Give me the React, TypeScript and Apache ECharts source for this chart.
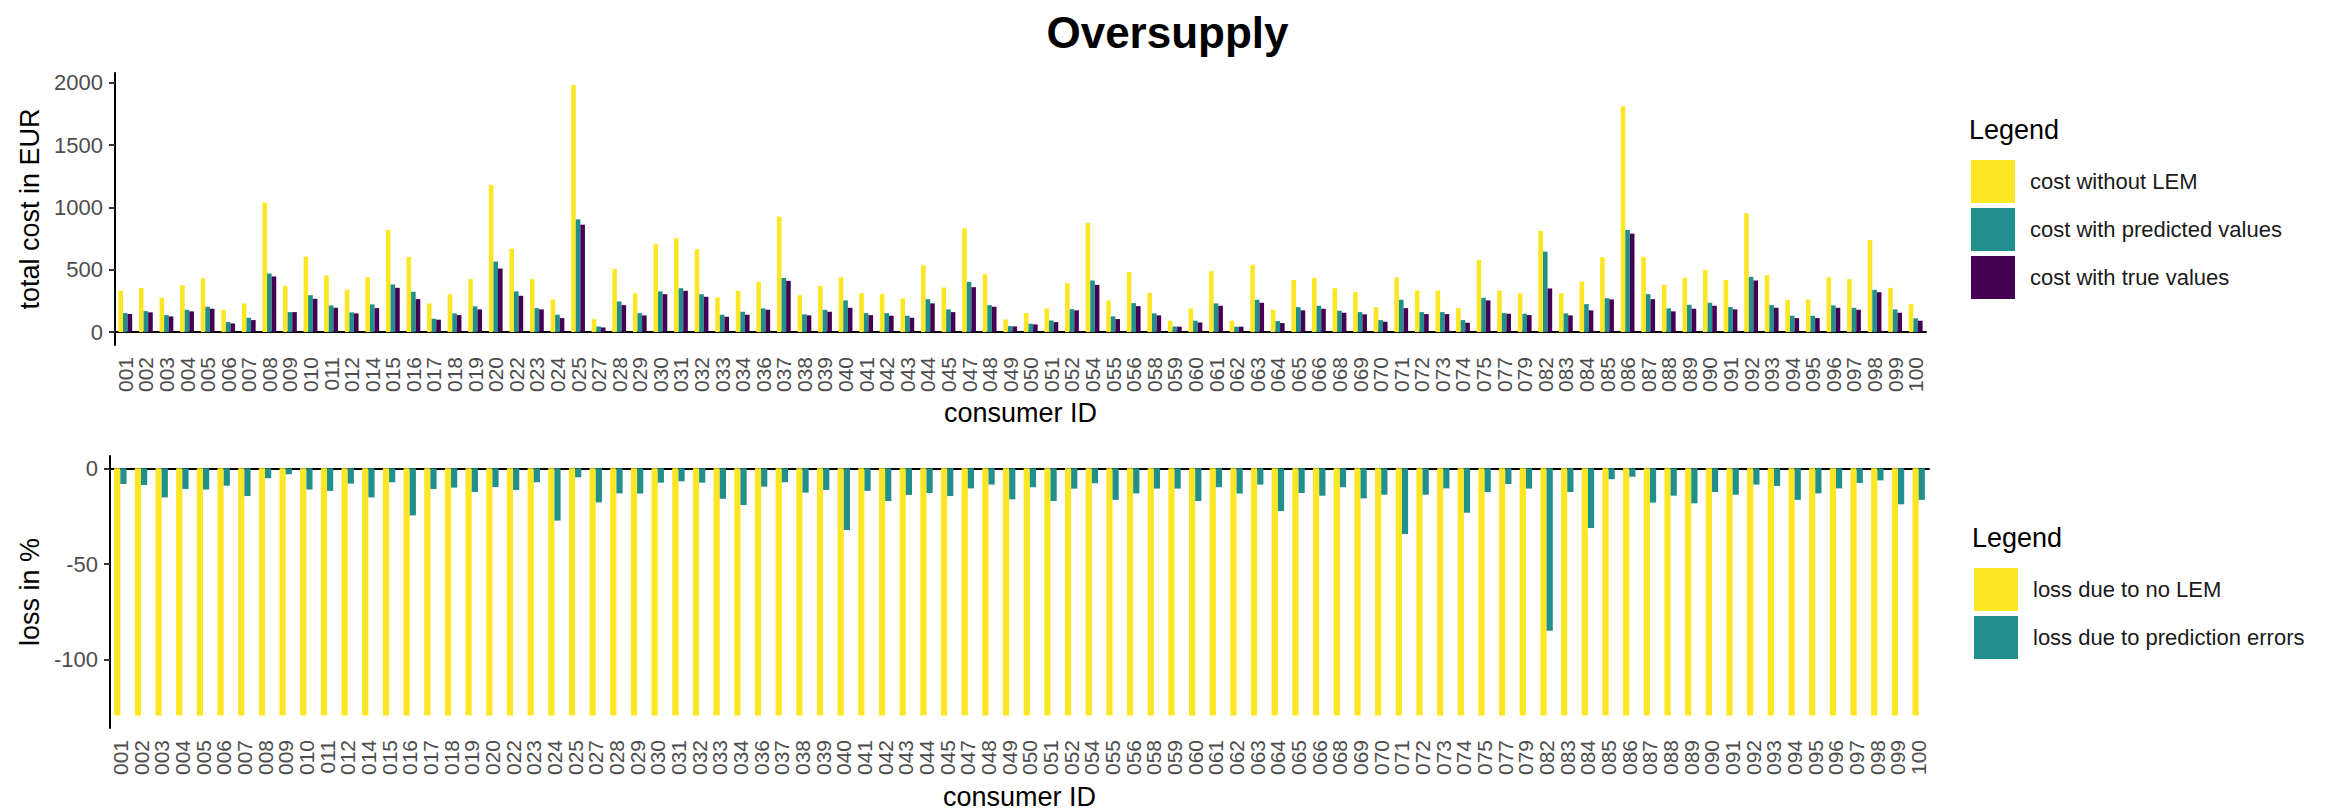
import React, { useEffect, useRef } from "react";
import * as echarts from "echarts";

const consumerIds = ["001","002","003","004","005","006","007","008","009","010","011","012","014","015","016","017","018","019","020","022","023","024","025","027","028","029","030","031","032","033","034","036","037","038","039","040","041","042","043","044","045","047","048","049","050","051","052","054","055","056","058","059","060","061","062","063","064","065","066","068","069","070","071","072","073","074","075","077","079","082","083","084","085","086","087","088","089","090","091","092","093","094","095","096","097","098","099","100"];

const costWithoutLEM = [331,355,275,376,432,179,230,1041,371,606,454,339,441,820,603,230,304,427,1180,670,425,262,1984,104,507,312,705,753,665,278,331,403,926,296,371,441,312,304,270,537,358,833,465,101,152,190,392,876,254,481,315,91,190,489,91,539,179,417,433,352,320,200,438,334,334,192,579,334,310,812,312,406,601,1813,603,379,435,497,419,953,457,259,262,441,425,740,355,224];

const costPredicted = [152,168,136,179,203,80,115,470,160,296,214,158,222,382,323,107,150,206,566,326,192,139,905,45,246,152,326,352,304,139,163,190,435,142,179,254,152,152,131,264,182,403,216,48,67,93,184,414,126,232,150,45,91,230,43,259,88,200,211,171,160,96,259,160,160,96,275,152,147,646,150,224,272,820,304,190,219,235,200,443,216,131,131,214,195,339,182,110];

const costTrue = [144,158,125,166,187,69,96,446,160,267,195,150,192,355,264,99,136,182,510,291,182,112,862,37,216,134,304,331,283,123,139,179,411,134,163,195,136,131,115,230,160,360,203,45,61,80,174,379,104,208,134,43,77,211,43,235,72,174,187,155,142,83,192,144,144,75,254,147,136,350,134,174,262,790,264,166,187,211,182,414,195,112,112,195,179,320,155,91];

const lossNoLEM = [-129,-129,-129,-129,-129,-129,-129,-129,-129,-129,-129,-129,-129,-129,-129,-129,-129,-129,-129,-129,-129,-129,-129,-129,-129,-129,-129,-129,-129,-129,-129,-129,-129,-129,-129,-129,-129,-129,-129,-129,-129,-129,-129,-129,-129,-129,-129,-129,-129,-129,-129,-129,-129,-129,-129,-129,-129,-129,-129,-129,-129,-129,-129,-129,-129,-129,-129,-129,-129,-129,-129,-129,-129,-129,-129,-129,-129,-129,-129,-129,-129,-129,-129,-129,-129,-129,-129,-129];

const lossPrediction = [-8.2,-8.7,-15.2,-10.8,-11.1,-9.1,-14.5,-5.2,-3.1,-11.1,-11.8,-8.0,-15.2,-7.3,-24.6,-10.8,-10.1,-12.4,-9.8,-11.3,-7.3,-27.3,-4.7,-17.8,-13.1,-13.2,-7.5,-6.8,-7.5,-15.9,-19.2,-9.6,-7.3,-12.7,-11.3,-32.2,-11.8,-17.1,-13.9,-12.9,-14.5,-10.5,-8.5,-16.2,-9.9,-17.1,-10.6,-7.8,-16.5,-13.1,-10.6,-10.6,-17.1,-9.9,-13.2,-8.5,-22.3,-12.9,-14.3,-9.9,-15.7,-13.8,-34.3,-13.8,-10.5,-23.2,-12.4,-8.2,-10.6,-84.8,-12.4,-31.2,-5.7,-4.4,-17.9,-14.3,-18.3,-12.4,-13.8,-8.5,-9.2,-16.5,-13.1,-10.5,-7.7,-6.3,-18.8,-16.5];

const topTicks = [0, 500, 1000, 1500, 2000];
const bottomTicks = [-100, -50, 0];

const topNames = ["cost without LEM", "cost with predicted values", "cost with true values"];
const bottomNames = ["loss due to no LEM", "loss due to prediction errors"];

const YELLOW = "#FDE725";
const TEAL = "#21908C";
const PURPLE = "#440154";
const FONT = "Liberation Sans, Arial, Helvetica, sans-serif";

export default function App() {
  const ref = useRef<HTMLDivElement>(null);
  useEffect(() => {
    if (!ref.current) return;
    const chart = echarts.init(ref.current, null, { renderer: "svg" });

    const catAxis = (gridIndex: number, nameGap: number) => ({
      type: "category",
      gridIndex,
      data: consumerIds,
      name: "consumer ID",
      nameLocation: "middle",
      nameGap,
      nameTextStyle: { fontSize: 27, color: "#000", fontFamily: FONT },
      axisLine: { lineStyle: { color: "#000", width: 2 } },
      axisTick: { alignWithLabel: true, interval: 0, length: 6, lineStyle: { color: "#333", width: 2 } },
      axisLabel: { interval: 0, rotate: 90, fontSize: 21, color: "#4D4D4D", margin: 12, fontFamily: FONT },
    });

    const valAxis = (gridIndex: number, min: number, max: number, ticks: number[], name: string, nameGap: number) => ({
      type: "value",
      gridIndex,
      min,
      max,
      name,
      nameLocation: "middle",
      nameGap,
      nameRotate: 90,
      nameTextStyle: { fontSize: 27, color: "#000", fontFamily: FONT },
      splitLine: { show: false },
      axisLine: { show: true, lineStyle: { color: "#000", width: 2 } },
      axisTick: { show: true, length: 6, customValues: ticks, lineStyle: { color: "#333", width: 2 } },
      axisLabel: {
        fontSize: 22,
        color: "#4D4D4D",
        margin: 12,
        customValues: ticks,
        fontFamily: FONT,
        formatter: (v: number) => String(v),
      },
    });

    const legendBase = {
      orient: "vertical",
      icon: "rect",
      itemWidth: 44,
      itemHeight: 43,
      itemGap: 5,
      textStyle: { fontSize: 22, color: "#1a1a1a", fontFamily: FONT, padding: [0, 0, 0, 10] },
      selectedMode: false,
    };

    chart.setOption({
      animation: false,
      backgroundColor: "#fff",
      title: {
        text: "Oversupply",
        left: "center",
        top: 5,
        textStyle: { fontSize: 44, fontWeight: "bold", color: "#000", fontFamily: FONT },
      },
      graphic: [
        { type: "text", left: 1969, top: 116, style: { text: "Legend", fontSize: 27, fill: "#000", fontFamily: FONT } },
        { type: "text", left: 1972, top: 524, style: { text: "Legend", fontSize: 27, fill: "#000", fontFamily: FONT } },
      ],
      legend: [
        { ...legendBase, data: topNames, left: 1966, top: 155 },
        { ...legendBase, data: bottomNames, left: 1969, top: 563 },
      ],
      grid: [
        { left: 115, top: 73, width: 1811, height: 272 },
        { left: 110, top: 456, width: 1819, height: 272 },
      ],
      xAxis: [catAxis(0, 54), catAxis(1, 55)],
      yAxis: [
        valAxis(0, -104, 2080, topTicks, "total cost in EUR", 65),
        valAxis(1, -135.5, 6.4, bottomTicks, "loss in %", 65),
      ],
      series: [
        { name: topNames[0], type: "bar", xAxisIndex: 0, yAxisIndex: 0, data: costWithoutLEM, barWidth: 4.6, barGap: "0%", itemStyle: { color: YELLOW } },
        { name: topNames[1], type: "bar", xAxisIndex: 0, yAxisIndex: 0, data: costPredicted, barWidth: 4.6, barGap: "0%", itemStyle: { color: TEAL } },
        { name: topNames[2], type: "bar", xAxisIndex: 0, yAxisIndex: 0, data: costTrue, barWidth: 4.6, barGap: "0%", itemStyle: { color: PURPLE } },
        { name: bottomNames[0], type: "bar", xAxisIndex: 1, yAxisIndex: 1, data: lossNoLEM, barWidth: 6.2, barGap: "0%", itemStyle: { color: YELLOW } },
        { name: bottomNames[1], type: "bar", xAxisIndex: 1, yAxisIndex: 1, data: lossPrediction, barWidth: 6.2, barGap: "0%", itemStyle: { color: TEAL } },
      ],
    });

    return () => chart.dispose();
  }, []);

  return (
    <div
      ref={ref}
      style={{ position: "fixed", left: 0, top: 0, width: 2335, height: 811, background: "#fff" }}
    />
  );
}
